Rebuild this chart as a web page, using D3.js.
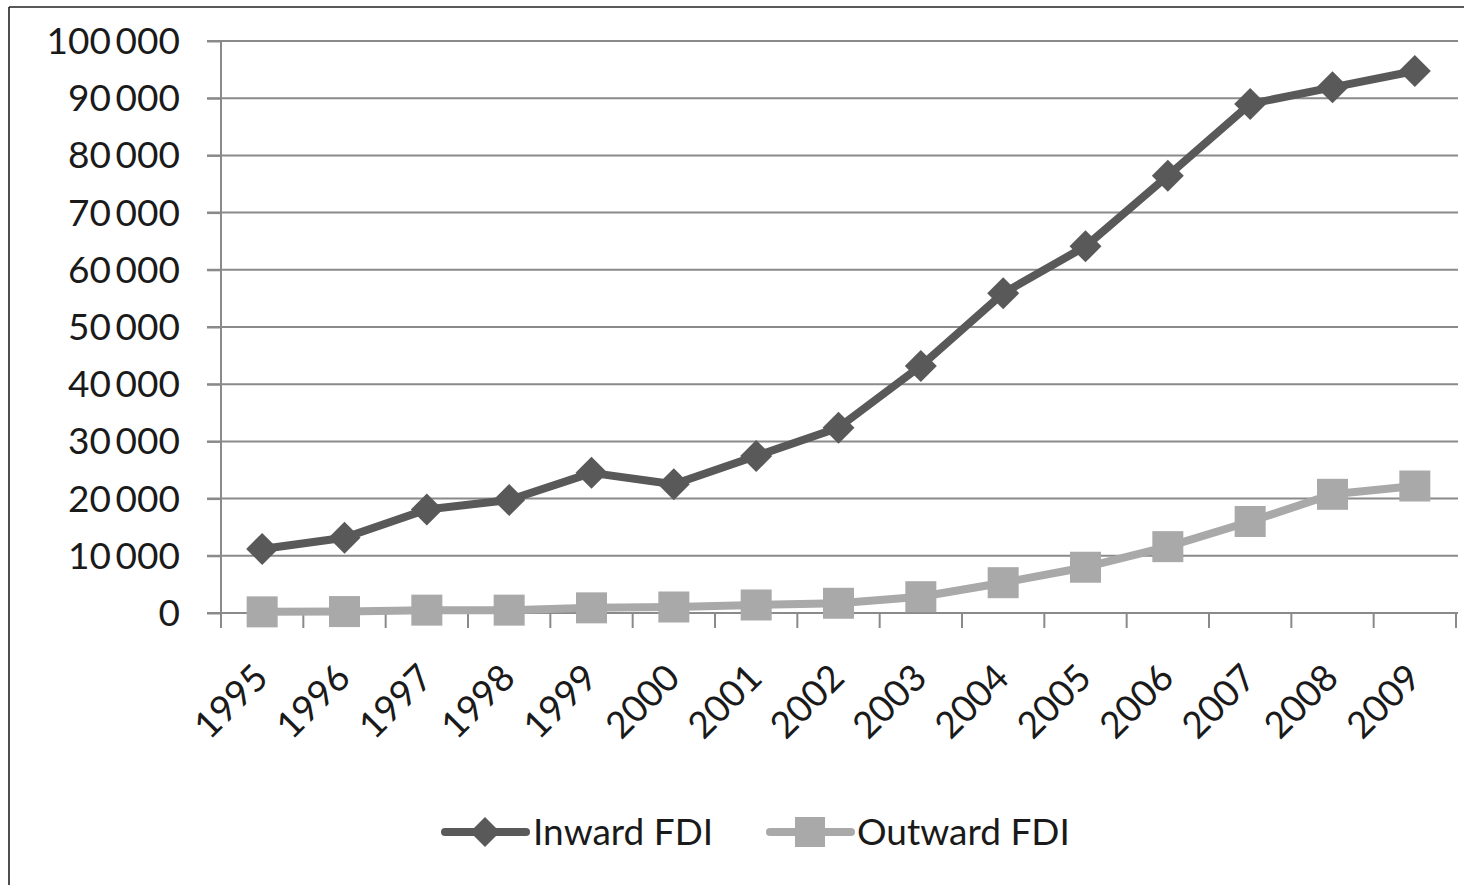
<!DOCTYPE html>
<html>
<head>
<meta charset="utf-8">
<script src="https://cdn.jsdelivr.net/npm/d3@7"></script>
<style>
html,body{margin:0;padding:0;background:#fff;}
svg{display:block;}
text{font-family:Lato,"Open Sans",sans-serif;}
</style>
</head>
<body>
<svg id="chart" width="1464" height="885"></svg>
<script>
const years = ["1995","1996","1997","1998","1999","2000","2001","2002","2003","2004","2005","2006","2007","2008","2009"];
const inwardFDI = [11200,13150,18100,19750,24500,22500,27450,32400,43200,55900,64100,76450,89000,91900,94750];
const outwardFDI = [200,250,500,500,900,1050,1400,1700,2850,5300,8000,11600,16000,20750,22200];
const yTicks = [0,10000,20000,30000,40000,50000,60000,70000,80000,90000,100000];
const seriesNames = ["Inward FDI","Outward FDI"];

(function(){
const svg = d3.select("#chart");
const pL = 221, pR = 1456, pT = 41, pB = 613;

// frame (top & left edges visible in reference)
svg.append("line").attr("x1",9).attr("x2",1464).attr("y1",7).attr("y2",7).attr("stroke","#222").attr("stroke-width",1.6);
svg.append("line").attr("x1",9).attr("x2",9).attr("y1",7).attr("y2",885).attr("stroke","#222").attr("stroke-width",1.6);

const x = d3.scaleBand().domain(years).range([pL,pR]).padding(0);
const y = d3.scaleLinear().domain([0,100000]).range([pB,pT]);
const cx = d => x(d) + x.bandwidth()/2;

const loc = d3.formatLocale({decimal:".",thousands:"\u2009",grouping:[3],currency:["",""]});
const fmt = loc.format(",d");

// gridlines
svg.append("g").selectAll("line").data(yTicks).join("line")
  .attr("x1",pL-14).attr("x2",pR+2)
  .attr("y1",d=>y(d)).attr("y2",d=>y(d))
  .attr("stroke","#8a8a8a").attr("stroke-width",2);

// y axis
const yAxis = svg.append("g").attr("transform",`translate(${pL},0)`)
  .call(d3.axisLeft(y).tickValues(yTicks).tickFormat(fmt).tickSize(14).tickPadding(27));
yAxis.select(".domain").remove();
yAxis.selectAll(".tick line").attr("stroke","#8a8a8a").attr("stroke-width",2);
yAxis.selectAll("text").attr("font-size",37).attr("fill","#1a1a1a").attr("dy","0.34em").attr("font-family","Lato");
svg.append("line").attr("x1",pL).attr("x2",pL).attr("y1",pT).attr("y2",pB+15)
  .attr("stroke","#8a8a8a").attr("stroke-width",2);

// x axis
svg.append("line").attr("x1",pL-14).attr("x2",pR+2).attr("y1",pB).attr("y2",pB)
  .attr("stroke","#8a8a8a").attr("stroke-width",2);
const bounds = years.map(d => x(d) + x.bandwidth());
svg.append("g").selectAll("line").data(bounds).join("line")
  .attr("x1",d=>d).attr("x2",d=>d).attr("y1",pB).attr("y2",pB+15)
  .attr("stroke","#8a8a8a").attr("stroke-width",2);
svg.append("g").selectAll("text").data(years).join("text")
  .attr("transform",d=>`translate(${cx(d)+8},${pB+67}) rotate(-45)`)
  .attr("text-anchor","end").attr("font-size",37).attr("fill","#1a1a1a")
  .text(d=>d);

const line = d3.line().x((d,i)=>cx(years[i])).y(d=>y(d));
const cIn = "#595959", cOut = "#a9a9a9";
const diamondPath = r => `M0,${-r}L${r},0L0,${r}L${-r},0Z`;

// outward
svg.append("path").datum(outwardFDI).attr("d",line).attr("fill","none")
  .attr("stroke",cOut).attr("stroke-width",8).attr("stroke-linejoin","round");
svg.append("g").selectAll("rect").data(outwardFDI).join("rect")
  .attr("x",(d,i)=>cx(years[i])-15.5).attr("y",d=>y(d)-15.5)
  .attr("width",31).attr("height",31).attr("fill",cOut);

// inward
svg.append("path").datum(inwardFDI).attr("d",line).attr("fill","none")
  .attr("stroke",cIn).attr("stroke-width",8).attr("stroke-linejoin","round");
svg.append("g").selectAll("path").data(inwardFDI).join("path")
  .attr("transform",(d,i)=>`translate(${cx(years[i])},${y(d)})`)
  .attr("d",diamondPath(16)).attr("fill",cIn);

// legend
const lg = svg.append("g");
const ly = 832;
lg.append("line").attr("x1",445).attr("x2",526).attr("y1",ly).attr("y2",ly)
  .attr("stroke",cIn).attr("stroke-width",8).attr("stroke-linecap","round");
lg.append("path").attr("transform",`translate(485,${ly})`).attr("d",diamondPath(15)).attr("fill",cIn);
lg.append("text").attr("x",533).attr("y",ly).attr("dy","0.36em").attr("font-size",37).attr("fill","#1a1a1a").text(seriesNames[0]);
lg.append("line").attr("x1",770).attr("x2",851).attr("y1",ly).attr("y2",ly)
  .attr("stroke",cOut).attr("stroke-width",8).attr("stroke-linecap","round");
lg.append("rect").attr("x",795).attr("y",ly-15).attr("width",30).attr("height",30).attr("fill",cOut);
lg.append("text").attr("x",857).attr("y",ly).attr("dy","0.36em").attr("font-size",37).attr("fill","#1a1a1a").text(seriesNames[1]);
})();
</script>
</body>
</html>
